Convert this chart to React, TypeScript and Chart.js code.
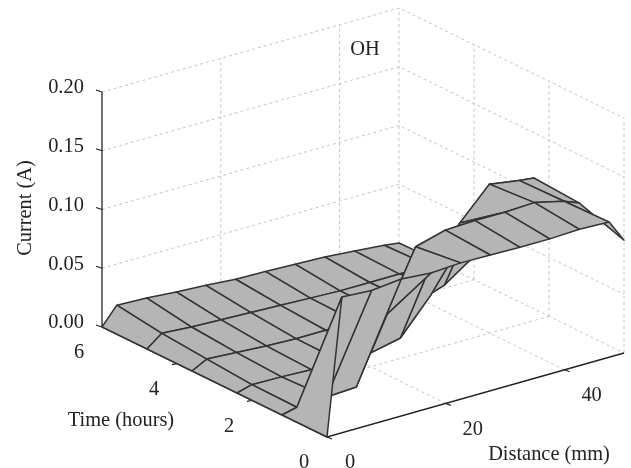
import { useEffect, useRef } from "react";
import { Chart, registerables } from "chart.js";

Chart.register(...registerables);

const distances = [0, 2.5, 7.5, 12.5, 17.5, 22.5, 27.5, 32.5, 37.5, 42.5, 47.5, 50];
const times = [0, 1.2, 2.4, 3.6, 4.8, 6];
const currentT0 = [0, 0.1156, 0.114, 0.1166, 0.1146, 0.116, 0.1156, 0.115, 0.115, 0.116, 0.115, 0.096];
const currentT1 = [0, 0.003, 0.0046, 0.006, 0.06, 0.111, 0.118, 0.119, 0.119, 0.12, 0.114, 0.109];
const currentT2 = [0, 0.0035, 0.003, 0.002, 0.002, 0.002, 0.0075, 0.036, 0.091, 0.117, 0.113, 0.1115];
const currentT3 = [0, 0.0066, 0.005, 0.0035, 0.0025, 0.0025, 0.003, 0.003, 0.004, 0.0124, 0.03, 0.03];
const currentT4 = [0, 0.0098, 0.008, 0.007, 0.006, 0.005, 0.004, 0.003, 0.003, 0.003, 0.003, 0.001];
const currentT5 = [0, 0.015, 0.014, 0.012, 0.0105, 0.0085, 0.008, 0.007, 0.006, 0.004, 0.0017, 0];
const currents = [currentT0, currentT1, currentT2, currentT3, currentT4, currentT5];

const currentTicks = [0, 0.05, 0.1, 0.15, 0.2];
const timeTicks = [0, 2, 4, 6];
const distanceTicks = [0, 20, 40];
const distanceMax = 50;
const timeMax = 6;
const currentMax = 0.2;

const WIDTH = 631;
const HEIGHT = 468;
const FONT = '"Liberation Serif", serif';
const INK = "#222222";

// Orthographic view of the three data axes
const project = (d: number, t: number, z: number) => ({
  x: 327 + 5.94 * d - 37.5 * t,
  y: 437 - 1.68 * d - 18.33 * t - 1175 * z,
});

const path = (points: number[][], color: string, width: number, dash: number[] = []) => ({
  data: points.map(([d, t, z]) => project(d, t, z)),
  showLine: true,
  fill: false,
  borderColor: color,
  borderWidth: width,
  borderDash: dash,
  pointRadius: 0,
  clip: false as const,
  tension: 0,
});

const offsetPath = (points: { x: number; y: number }[], color: string, width: number) => ({
  data: points,
  showLine: true,
  fill: false,
  borderColor: color,
  borderWidth: width,
  pointRadius: 0,
  clip: false as const,
  tension: 0,
});

function buildDatasets() {
  const sets: any[] = [];
  const GRID = "#c4c4c4";
  const DASH = [3, 3];
  // back walls and floor
  for (const z of currentTicks) {
    sets.push(path([[0, timeMax, z], [distanceMax, timeMax, z], [distanceMax, 0, z]], GRID, 1, DASH));
  }
  for (const d of [20, 40, distanceMax]) {
    sets.push(path([[d, timeMax, 0], [d, timeMax, currentMax]], GRID, 1, DASH));
  }
  for (const t of [0, 2, 4]) {
    sets.push(path([[distanceMax, t, 0], [distanceMax, t, currentMax]], GRID, 1, DASH));
  }
  for (const d of [20, 40]) sets.push(path([[d, 0, 0], [d, timeMax, 0]], GRID, 1, DASH));
  for (const t of [2, 4]) sets.push(path([[0, t, 0], [distanceMax, t, 0]], GRID, 1, DASH));

  // axes
  sets.push(path([[0, timeMax, 0], [0, timeMax, currentMax]], "#222", 1.3));
  sets.push(path([[0, timeMax, 0], [0, 0, 0], [distanceMax, 0, 0]], "#222", 1.3));
  for (const z of currentTicks) {
    const p = project(0, timeMax, z);
    sets.push(offsetPath([p, { x: p.x - 6, y: p.y - 2 }], "#222", 1.2));
  }
  for (const t of timeTicks.slice(1, 3)) {
    const p = project(0, t, 0);
    sets.push(offsetPath([p, { x: p.x - 5, y: p.y + 1 }], "#222", 1.2));
  }
  for (const d of distanceTicks) {
    const p = project(d, 0, 0);
    sets.push(offsetPath([p, { x: p.x + 5, y: p.y + 2 }], "#222", 1.2));
  }

  // surface, far cells first
  for (let j = times.length - 2; j >= 0; j--) {
    for (let i = distances.length - 2; i >= 0; i--) {
      const corners = [
        [i, j],
        [i + 1, j],
        [i + 1, j + 1],
        [i, j + 1],
        [i, j],
      ].map(([a, b]) => project(distances[a], times[b], currents[b][a]));
      sets.push({
        data: corners,
        showLine: true,
        fill: "shape",
        backgroundColor: "#b5b5b5",
        borderColor: "#333333",
        borderWidth: 1.5,
        borderJoinStyle: "round",
        pointRadius: 0,
        clip: false as const,
        tension: 0,
      });
      // the steep fold next to the origin shows a crease across its cell
      if (i === 1 && j === 0) {
        sets.push(
          path(
            [
              [distances[i], times[j], currents[j][i]],
              [distances[i + 1], times[j + 1], currents[j + 1][i + 1]],
            ],
            "#333333",
            1.5
          )
        );
      }
    }
  }
  // Chart.js paints the first dataset last
  return sets.reverse();
}

const labelsPlugin = {
  id: "axisText",
  afterDraw(chart: Chart) {
    const ctx = chart.ctx;
    ctx.save();
    ctx.fillStyle = INK;
    ctx.font = `20.4px ${FONT}`;
    ctx.textBaseline = "middle";
    ctx.textAlign = "center";
    for (const z of currentTicks) {
      const p = project(0, timeMax, z);
      ctx.fillText(z.toFixed(2), p.x - 36, p.y - 4);
    }
    for (const t of timeTicks) {
      const p = project(0, t, 0);
      ctx.fillText(String(t), p.x - 23, p.y + 26);
    }
    for (const d of distanceTicks) {
      const p = project(d, 0, 0);
      ctx.fillText(String(d), p.x + (d === 0 ? 23 : 27), p.y + 26);
    }
    ctx.fillText("OH", 365, 50);
    ctx.fillText("Time (hours)", 121, 421);
    ctx.fillText("Distance (mm)", 549, 455);
    ctx.translate(26, 208);
    ctx.rotate(-Math.PI / 2);
    ctx.fillText("Current (A)", 0, 0);
    ctx.restore();
  },
};

export default function App() {
  const ref = useRef<HTMLCanvasElement>(null);
  useEffect(() => {
    if (!ref.current) return;
    const chart = new Chart(ref.current, {
      type: "scatter",
      data: { datasets: buildDatasets() },
      options: {
        animation: false,
        responsive: false,
        devicePixelRatio: 1,
        layout: { padding: 0 },
        plugins: { legend: { display: false }, tooltip: { enabled: false }, title: { display: false } },
        scales: {
          x: { type: "linear", min: 0, max: WIDTH, display: false },
          y: { type: "linear", min: 0, max: HEIGHT, reverse: true, display: false },
        },
      },
      plugins: [labelsPlugin],
    } as any);
    return () => chart.destroy();
  }, []);
  return (
    <div style={{ position: "absolute", left: 0, top: 0, width: WIDTH, height: HEIGHT, background: "#fff" }}>
      <canvas ref={ref} width={WIDTH} height={HEIGHT} style={{ display: "block" }} />
    </div>
  );
}
